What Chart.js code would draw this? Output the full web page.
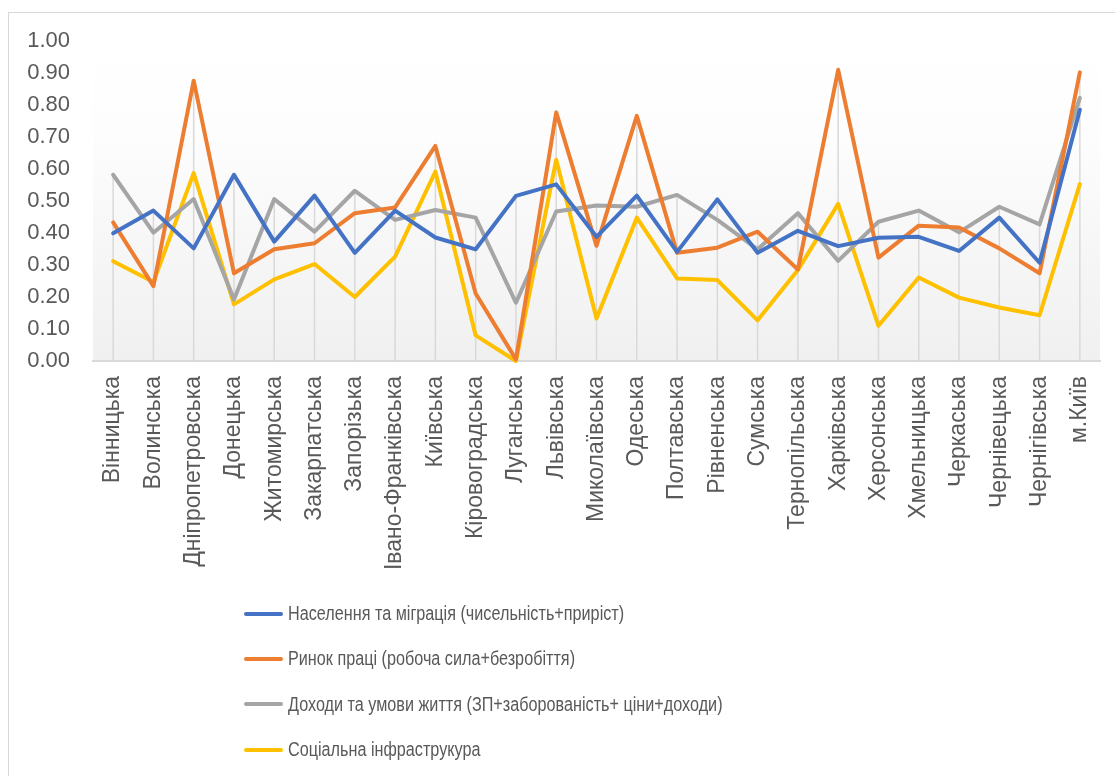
<!DOCTYPE html>
<html lang="uk">
<head>
<meta charset="utf-8">
<title>Індекси регіонів</title>
<script src="https://cdn.jsdelivr.net/npm/chart.js@4.4.1/dist/chart.umd.min.js"></script>
<style>
    html, body { margin: 0; padding: 0; background: #fff; overflow: hidden; }
    #wrap { position: relative; width: 1115px; height: 776px; overflow: hidden; }
    #frame {
        position: absolute; left: 8px; top: 12px;
        width: 1200px; height: 900px;
        border: 1px solid #d9d9d9;
    }
    #regionChart { position: absolute; left: 0; top: 0; }
    #legend {
        position: absolute; left: 244px; top: 591px;
        font-family: "Liberation Sans", sans-serif;
        font-size: 20px; color: #595959;
    }
    .legend-item { display: flex; align-items: center; height: 45.3px; white-space: nowrap; }
    .legend-line { width: 39px; height: 4px; border-radius: 2px; margin-right: 5px; flex: none; }
    /* the original uses a narrow face, squeeze the text a bit */
    .legend-text { display: inline-block; transform: scaleX(0.81); transform-origin: left center; }
</style>
</head>
<body>
<div id="wrap">
    <div id="frame"></div>
    <canvas id="regionChart" width="1115" height="776"></canvas>
    <div id="legend"></div>
</div>
<script>
// Regions (x axis)
const regions = ['Вінницька', 'Волинська', 'Дніпропетровська', 'Донецька', 'Житомирська',
    'Закарпатська', 'Запорізька', 'Івано-Франківська', 'Київська', 'Кіровоградська',
    'Луганська', 'Львівська', 'Миколаївська', 'Одеська', 'Полтавська', 'Рівненська',
    'Сумська', 'Тернопільська', 'Харківська', 'Херсонська', 'Хмельницька', 'Черкаська',
    'Чернівецька', 'Чернігівська', 'м.Київ'];

// Series labels
const seriesNames = [
    'Населення та міграція (чисельність+приріст)',
    'Ринок праці (робоча сила+безробіття)',
    'Доходи та умови життя (ЗП+заборованість+ ціни+доходи)',
    'Соціальна інфраструкура'
];

// Values
const population = [0.399, 0.470, 0.352, 0.582, 0.373, 0.517, 0.338, 0.470, 0.386, 0.349,
    0.516, 0.552, 0.388, 0.517, 0.341, 0.505, 0.338, 0.407, 0.359, 0.385,
    0.388, 0.344, 0.448, 0.307, 0.785];
const labourMarket = [0.433, 0.234, 0.876, 0.274, 0.349, 0.368, 0.462, 0.480, 0.672, 0.211,
    0.005, 0.777, 0.360, 0.766, 0.338, 0.354, 0.404, 0.286, 0.910, 0.323,
    0.423, 0.417, 0.352, 0.274, 0.902];
const incomeLiving = [0.582, 0.401, 0.506, 0.192, 0.506, 0.404, 0.532, 0.441, 0.472, 0.448,
    0.182, 0.467, 0.486, 0.482, 0.519, 0.441, 0.349, 0.462, 0.313, 0.435,
    0.470, 0.402, 0.482, 0.427, 0.822];
const socialInfra = [0.312, 0.247, 0.587, 0.177, 0.255, 0.303, 0.200, 0.326, 0.592, 0.080,
    0.000, 0.629, 0.133, 0.448, 0.258, 0.253, 0.127, 0.284, 0.491, 0.110,
    0.261, 0.198, 0.167, 0.143, 0.553];

// Y axis ticks
const yMin = 0;
const yMax = 1;
const yStep = 0.1;

const seriesColors = ['#4472C4', '#ED7D31', '#A5A5A5', '#FFC000'];
const seriesData = [population, labourMarket, incomeLiving, socialInfra];

// Plot area gradient (white at top, light grey at bottom)
const plotBackground = {
    id: 'plotBackground',
    beforeDraw(chart) {
        const {ctx, chartArea: a} = chart;
        const g = ctx.createLinearGradient(0, a.top, 0, a.bottom);
        g.addColorStop(0, '#ffffff');
        g.addColorStop(0.3, '#fdfdfd');
        g.addColorStop(1, '#f0f0f0');
        ctx.save();
        ctx.fillStyle = g;
        ctx.fillRect(a.left, a.top, a.right - a.left, a.bottom - a.top);
        ctx.restore();
    }
};

// Drop lines: from the highest series point down to the category axis
const dropLines = {
    id: 'dropLines',
    beforeDatasetsDraw(chart) {
        const {ctx, chartArea: a, scales: {x, y}} = chart;
        ctx.save();
        ctx.strokeStyle = '#d9d9d9';
        ctx.lineWidth = 1.5;
        regions.forEach((r, i) => {
            const top = Math.max(...chart.data.datasets.map(d => d.data[i]));
            const px = x.getPixelForValue(i);
            ctx.beginPath();
            ctx.moveTo(px, y.getPixelForValue(top));
            ctx.lineTo(px, a.bottom);
            ctx.stroke();
        });
        ctx.restore();
    }
};

function buildLegend(chart) {
    const box = document.getElementById('legend');
    box.innerHTML = '';
    chart.data.datasets.forEach(ds => {
        const item = document.createElement('div');
        item.className = 'legend-item';
        const line = document.createElement('span');
        line.className = 'legend-line';
        line.style.background = ds.borderColor;
        const text = document.createElement('span');
        text.className = 'legend-text';
        text.textContent = ds.label;
        item.appendChild(line);
        item.appendChild(text);
        box.appendChild(item);
    });
}

const ctx = document.getElementById('regionChart').getContext('2d');
const chart = new Chart(ctx, {
    type: 'line',
    data: {
        labels: regions,
        datasets: seriesNames.map((name, i) => ({
            label: name,
            data: seriesData[i],
            borderColor: seriesColors[i],
            backgroundColor: seriesColors[i],
            borderWidth: 4,
            borderJoinStyle: 'round',
            borderCapStyle: 'round',
            pointRadius: 0,
            tension: 0,
            clip: 6
        }))
    },
    options: {
        responsive: false,
        animation: false,
        layout: { padding: { top: 41, left: 0, right: 15, bottom: 185 } },
        plugins: {
            legend: { display: false },
            tooltip: { enabled: false }
        },
        scales: {
            x: {
                offset: true,
                grid: { display: false, drawTicks: false },
                border: { color: '#d9d9d9', width: 2 },
                ticks: {
                    autoSkip: false,
                    maxRotation: 90,
                    minRotation: 90,
                    padding: 15,
                    color: '#595959',
                    font: { family: '"Liberation Sans", sans-serif', size: 23 }
                },
                afterFit: s => {
                    s.height = 230;
                    s.paddingLeft = 0;
                    s.paddingRight = 0;
                }
            },
            y: {
                min: yMin,
                max: yMax,
                grid: { display: false, drawTicks: false },
                border: { display: false },
                ticks: {
                    stepSize: yStep,
                    padding: 23,
                    color: '#595959',
                    font: { family: '"Liberation Sans", sans-serif', size: 22 },
                    callback: v => Number(v).toFixed(2)
                },
                afterFit: s => { s.width = 93; }
            }
        }
    },
    plugins: [plotBackground, dropLines]
});

buildLegend(chart);
console.log('chart area', chart.chartArea);
</script>
</body>
</html>
